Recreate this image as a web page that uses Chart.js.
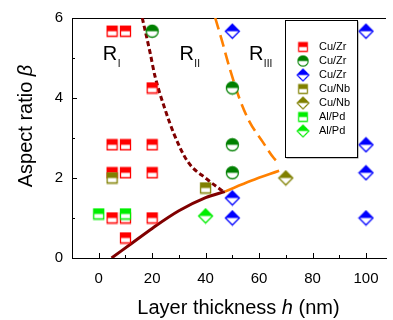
<!DOCTYPE html>
<html>
<head>
<meta charset="utf-8">
<title>Aspect ratio vs layer thickness</title>
<script src="https://cdn.jsdelivr.net/npm/chart.js@4/dist/chart.umd.min.js"></script>
<style>
  body { margin: 0; background: #fff; }
  #wrap { width: 393px; height: 320px; position: relative; }
</style>
</head>
<body>
<div id="wrap"><canvas id="chart"></canvas></div>
<script>
// tick values
const xTicks = [0, 20, 40, 60, 80, 100];
const xMinor = [-10, 10, 30, 50, 70, 90];
const yTicks = [0, 2, 4, 6];
const yMinor = [1, 3, 5];

// measured points [h, beta]
const cuZrSquares = [[5, 5.67], [10, 5.67], [20, 4.25], [5, 2.83], [10, 2.83], [20, 2.83],
                     [5, 2.13], [10, 2.13], [20, 2.13], [5, 1.0], [10, 1.0], [20, 1.0], [10, 0.5]];
const cuZrCircles = [[20, 5.67], [50, 4.25], [50, 2.83], [50, 2.13]];
const cuZrDiamonds = [[50, 5.67], [50, 1.5], [50, 1.0], [100, 5.67], [100, 2.83], [100, 2.13], [100, 1.0]];
const cuNbSquares = [[5, 2.0], [40, 1.75]];
const cuNbDiamonds = [[70, 2.0]];
const alPdSquares = [[0, 1.1], [10, 1.1]];
const alPdDiamonds = [[40, 1.05]];

// boundary curves
const lowerDarkX = [4.8, 12.4, 20, 30, 40, 47.2];
const lowerDarkY = [0, 0.37, 0.74, 1.18, 1.51, 1.66];
const lowerOrangeX = [47.2, 57, 67.5];
const lowerOrangeY = [1.66, 1.93, 2.18];
const dottedX = [16.3, 19.2, 21, 24.7, 28.3, 33.2, 40.5, 46.6];
const dottedY = [6, 5.14, 4.56, 3.74, 3.08, 2.42, 1.97, 1.66];
const dashedX = [43.6, 46, 49.1, 52.7, 56.4, 61.3, 65.5, 67.3];
const dashedY = [6, 5.46, 4.72, 3.98, 3.41, 2.91, 2.5, 2.38];

const FONT = '"Liberation Sans", Arial, sans-serif';

function marker(shape, color, s) {
  const c = document.createElement('canvas');
  const size = Math.ceil(s + 3);
  c.width = c.height = size;
  const g = c.getContext('2d');
  const m = size / 2, h = s / 2;
  function path() {
    g.beginPath();
    if (shape === 'square') g.rect(m - h, m - h, s, s);
    else if (shape === 'circle') g.arc(m, m, h, 0, Math.PI * 2);
    else { g.moveTo(m, m - h); g.lineTo(m + h, m); g.lineTo(m, m + h); g.lineTo(m - h, m); g.closePath(); }
  }
  path(); g.fillStyle = '#fff'; g.fill();
  g.save();
  g.beginPath(); g.rect(0, 0, size, m); g.clip();
  path(); g.fillStyle = color; g.fill();
  g.restore();
  path(); g.lineWidth = 1.3; g.strokeStyle = color; g.stroke();
  return c;
}

const styles = {
  redSq: marker('square', '#ff0000', 10),
  greenCi: marker('circle', '#008000', 12),
  blueDi: marker('diamond', '#0000ff', 14),
  oliveSq: marker('square', '#808000', 10),
  oliveDi: marker('diamond', '#808000', 14),
  limeSq: marker('square', '#00ee00', 10),
  limeDi: marker('diamond', '#00ee00', 14)
};

const pts = arr => arr.map(p => ({x: p[0], y: p[1]}));
const curve = (xs, ys) => xs.map((v, i) => ({x: v, y: ys[i]}));

function pointSet(label, data, style, order) {
  return { label: label, data: pts(data), pointStyle: style, pointRadius: 6, showLine: false, order: order, legend: true };
}
function lineSet(data, color, width, dash) {
  return { label: '', data: data, showLine: true, pointRadius: 0, borderColor: color, borderWidth: width,
           borderDash: dash, cubicInterpolationMode: 'monotone', order: 20 };
}

const datasets = [
  pointSet('Cu/Zr', cuZrSquares, styles.redSq, 9),
  pointSet('Cu/Zr', cuZrCircles, styles.greenCi, 8),
  pointSet('Cu/Zr', cuZrDiamonds, styles.blueDi, 7),
  pointSet('Cu/Nb', cuNbSquares, styles.oliveSq, 6),
  pointSet('Cu/Nb', cuNbDiamonds, styles.oliveDi, 5),
  pointSet('Al/Pd', alPdSquares, styles.limeSq, 4),
  pointSet('Al/Pd', alPdDiamonds, styles.limeDi, 3),
  lineSet(curve(lowerDarkX, lowerDarkY), '#800000', 3, []),
  lineSet(curve(lowerOrangeX, lowerOrangeY), '#ff8000', 2.6, []),
  lineSet(curve(dottedX, dottedY), '#800000', 3, [5, 3]),
  lineSet(curve(dashedX, dashedY), '#ff8000', 2.6, [12, 6])
];

function drawRegion(ctx, x, y, sub) {
  ctx.font = '20px ' + FONT;
  ctx.textAlign = 'left';
  ctx.textBaseline = 'alphabetic';
  ctx.fillText('R', x, y);
  const w = ctx.measureText('R').width;
  ctx.font = '10px ' + FONT;
  ctx.fillText(sub, x + w + 0.5, y + 7);
}

const decor = {
  id: 'decor',
  beforeDatasetsDraw(chart) {
    const {ctx, chartArea: a, scales: {x, y}} = chart;
    ctx.save();
    ctx.strokeStyle = '#000';
    ctx.lineWidth = 1;
    ctx.beginPath();
    ctx.moveTo(a.left, a.top + 0.5); ctx.lineTo(a.right, a.top + 0.5);
    xTicks.forEach(v => { const p = Math.round(x.getPixelForValue(v)) + 0.5; ctx.moveTo(p, a.bottom); ctx.lineTo(p, a.bottom - 5); });
    xMinor.forEach(v => { const p = Math.round(x.getPixelForValue(v)) + 0.5; ctx.moveTo(p, a.bottom); ctx.lineTo(p, a.bottom - 3); });
    yTicks.forEach(v => { const p = Math.round(y.getPixelForValue(v)) + 0.5; ctx.moveTo(a.left, p); ctx.lineTo(a.left + 5, p); });
    yMinor.forEach(v => { const p = Math.round(y.getPixelForValue(v)) + 0.5; ctx.moveTo(a.left, p); ctx.lineTo(a.left + 3, p); });
    ctx.stroke();
    ctx.restore();
  },
  afterDraw(chart) {
    const {ctx, chartArea: a, scales: {x, y}} = chart;
    ctx.save();
    ctx.fillStyle = '#000';

    // axis titles with italic symbols
    ctx.font = '20px ' + FONT;
    const xt1 = 'Layer thickness ', xt2 = 'h', xt3 = ' (nm)';
    const w1 = ctx.measureText(xt1).width, w3 = ctx.measureText(xt3).width;
    ctx.font = 'italic 20px ' + FONT;
    const w2 = ctx.measureText(xt2).width;
    let sx = 238.5 - (w1 + w2 + w3) / 2;
    ctx.textBaseline = 'alphabetic';
    ctx.textAlign = 'left';
    ctx.font = '20px ' + FONT; ctx.fillText(xt1, sx, 314);
    ctx.font = 'italic 20px ' + FONT; ctx.fillText(xt2, sx + w1, 314);
    ctx.font = '20px ' + FONT; ctx.fillText(xt3, sx + w1 + w2, 314);

    ctx.save();
    ctx.translate(32, 126);
    ctx.rotate(-Math.PI / 2);
    ctx.font = '20px ' + FONT;
    const yt1 = 'Aspect ratio ', yt2 = '\u03b2';
    const v1 = ctx.measureText(yt1).width;
    ctx.font = 'italic 20px ' + FONT;
    const v2 = ctx.measureText(yt2).width;
    const sy = -(v1 + v2) / 2;
    ctx.font = '20px ' + FONT; ctx.fillText(yt1, sy, 0);
    ctx.font = 'italic 20px ' + FONT; ctx.fillText(yt2, sy + v1, 0);
    ctx.restore();

    // region labels
    drawRegion(ctx, x.getPixelForValue(1.5), y.getPixelForValue(4.95), 'I');
    drawRegion(ctx, x.getPixelForValue(30.2), y.getPixelForValue(4.95), 'II');
    drawRegion(ctx, x.getPixelForValue(56.2), y.getPixelForValue(4.95), 'III');

    // legend box
    const lx = a.left + 213, ly = a.top + 2, lw = 72, lh = 137;
    ctx.fillStyle = '#888';
    ctx.fillRect(lx + 1.5, ly + 1.5, lw, lh);
    ctx.fillStyle = '#fff';
    ctx.fillRect(lx, ly, lw, lh);
    ctx.strokeStyle = '#000';
    ctx.lineWidth = 1;
    ctx.strokeRect(lx + 0.5, ly + 0.5, lw, lh);
    ctx.font = '11px ' + FONT;
    ctx.textBaseline = 'middle';
    ctx.fillStyle = '#000';
    let row = 0;
    chart.data.datasets.forEach(ds => {
      if (!ds.legend) return;
      const cy = ly + 27 + row * 14;
      const img = ds.pointStyle;
      const k = 0.85;
      ctx.drawImage(img, lx + 18 - img.width * k / 2, cy - img.height * k / 2, img.width * k, img.height * k);
      ctx.fillText(ds.label, lx + 34, cy);
      row++;
    });
    ctx.restore();
  }
};

Chart.defaults.color = '#000';
Chart.defaults.font.family = FONT;

new Chart(document.getElementById('chart'), {
  type: 'scatter',
  data: { datasets: datasets },
  options: {
    responsive: true,
    maintainAspectRatio: false,
    animation: false,
    layout: { padding: { top: 15, right: 0, left: 0, bottom: 0 } },
    plugins: { legend: { display: false }, tooltip: { enabled: false } },
    scales: {
      x: {
        type: 'linear', min: -10, max: 107.5,
        afterFit: s => { s.height = 62; },
        afterBuildTicks: s => { s.ticks = xTicks.map(v => ({value: v})); },
        grid: { display: false, drawTicks: false },
        border: { display: true, color: '#000', width: 1 },
        ticks: { font: { size: 15 }, padding: 12, maxRotation: 0 }
      },
      y: {
        type: 'linear', min: 0, max: 6,
        afterFit: s => { s.width = 72; },
        afterBuildTicks: s => { s.ticks = yTicks.map(v => ({value: v})); },
        grid: { display: false, drawTicks: false },
        border: { display: true, color: '#000', width: 1 },
        ticks: { font: { size: 15 }, padding: 9 }
      }
    }
  },
  plugins: [decor]
});
</script>
</body>
</html>
